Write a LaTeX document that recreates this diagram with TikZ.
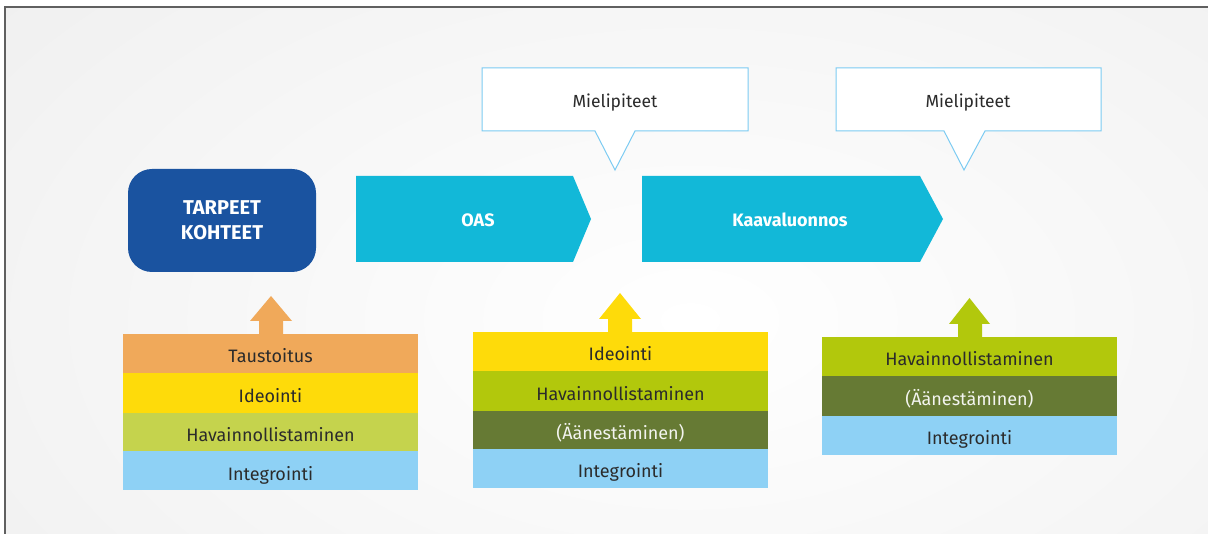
\documentclass[tikz,border=0pt]{standalone}
\usepackage{fontspec}
\setmainfont{Fira Sans}
\definecolor{bggray}{HTML}{E6E6E6}
\definecolor{framegray}{HTML}{606060}
\definecolor{navy}{HTML}{1A53A0}
\definecolor{cyanbox}{HTML}{12B8D8}
\definecolor{callline}{HTML}{7CCBF2}
\definecolor{orangerow}{HTML}{F0A95A}
\definecolor{yellowrow}{HTML}{FEDB0A}
\definecolor{lgreenrow}{HTML}{C5D34D}
\definecolor{greenrow}{HTML}{B2C80C}
\definecolor{olive}{HTML}{667A34}
\definecolor{bluerow}{HTML}{8ED1F5}
\definecolor{txt}{HTML}{2B2B2B}
\begin{document}
\begin{tikzpicture}[x=1pt,y=-1pt,
  rowbox/.style={rectangle, inner sep=0pt, minimum width=295pt, text=txt, text height=19pt, text depth=0pt, font=\fontsize{18}{21}\selectfont},
  headtext/.style={text=white, inner sep=0pt, text height=16pt, text depth=0pt, font=\bfseries\fontsize{18}{21}\selectfont},
  tartext/.style={text=white, inner sep=0pt, anchor=base, font=\bfseries\fontsize{20}{24}\selectfont},
  calltext/.style={text=txt, inner sep=0pt, text height=14pt, text depth=0pt, font=\fontsize{17.5}{21}\selectfont},
  callout/.style={fill=white, draw=callline, line width=1pt}]
\useasboundingbox (0,0) rectangle (1208,534);
\fill[white] (0,0) rectangle (1208,534);
\begin{scope}
\clip (5,7) rectangle (1208,534);
\shade[inner color=white, outer color=bggray] (690,320) ellipse (1480 and 860);
\end{scope}
\draw[framegray, line width=1.5pt] (5,534) -- (5,7) -- (1208,7);

% TARPEET
\node[fill=navy, rounded corners=24pt, minimum width=188pt, minimum height=103pt] (tarp) at (222,220.5) {};
\node[tartext] (tarp1) at (222,215) {TARPEET};
\node[tartext] (tarp2) at (222,240) {KOHTEET};

% chevrons
\fill[cyanbox] (356,176) -- (573,176) -- (591,219) -- (573,262) -- (356,262) -- cycle;
\node[headtext] (oas) at (478,219) {OAS};
\fill[cyanbox] (642,176) -- (920,176) -- (943,219) -- (920,262) -- (642,262) -- cycle;
\node[headtext] (kaava) at (790,219) {Kaavaluonnos};

% callouts
\draw[callout] (482,68) -- (748,68) -- (748,131) -- (635,131) -- (615,170) -- (595,131) -- (482,131) -- cycle;
\node[calltext] (miel1) at (615,101) {Mielipiteet};
\draw[callout] (836,68) -- (1101,68) -- (1101,131) -- (985,131) -- (964,170) -- (944,131) -- (836,131) -- cycle;
\node[calltext] (miel2) at (968,101) {Mielipiteet};

% stack 1
\fill[orangerow] (259,334.5) -- (259,321) -- (250,321) -- (271,296) -- (292,321) -- (283,321) -- (283,334.5) -- cycle;
\node[rowbox, fill=orangerow, minimum height=39pt] (s1a) at (270.5,353.5) {Taustoitus};
\node[rowbox, fill=yellowrow, minimum height=40pt] (s1b) at (270.5,393) {Ideointi};
\node[rowbox, fill=lgreenrow, minimum height=38pt] (s1c) at (270.5,432) {Havainnollistaminen};
\node[rowbox, fill=bluerow, minimum height=39pt] (s1d) at (270.5,470.5) {Integrointi};

% stack 2
\fill[yellowrow] (608,332.5) -- (608,319) -- (599,319) -- (620,293) -- (641,319) -- (632,319) -- (632,332.5) -- cycle;
\node[rowbox, fill=yellowrow, minimum height=39pt] (s2a) at (620.5,351.5) {Ideointi};
\node[rowbox, fill=greenrow, minimum height=40pt] (s2b) at (620.5,391) {Havainnollistaminen};
\node[rowbox, fill=olive, minimum height=38pt, text=white!92!olive] (s2c) at (620.5,430) {(Äänestäminen)};
\node[rowbox, fill=bluerow, minimum height=39pt] (s2d) at (620.5,468.5) {Integrointi};

% stack 3
\fill[greenrow] (958,337.5) -- (958,324) -- (949,324) -- (969.5,298) -- (990,324) -- (982,324) -- (982,337.5) -- cycle;
\node[rowbox, fill=greenrow, minimum height=39pt] (s3a) at (969.5,356.5) {Havainnollistaminen};
\node[rowbox, fill=olive, minimum height=40pt, text=white!92!olive] (s3b) at (969.5,396) {(Äänestäminen)};
\node[rowbox, fill=bluerow, minimum height=39pt] (s3c) at (969.5,435.5) {Integrointi};
\end{tikzpicture}
\end{document}
